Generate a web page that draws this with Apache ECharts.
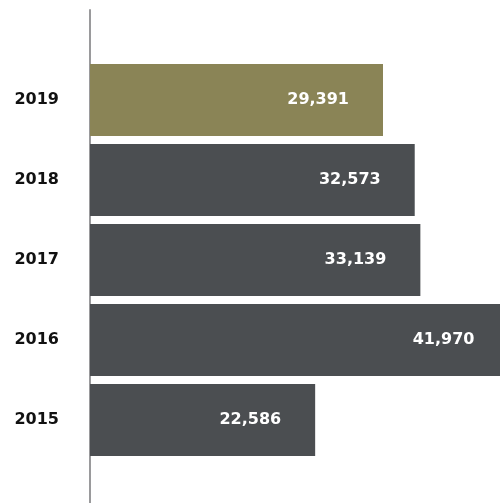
<!DOCTYPE html>
<html>
<head>
<meta charset="utf-8">
<script src="https://cdn.jsdelivr.net/npm/echarts@6/dist/echarts.min.js"></script>
<style>
  html, body { margin: 0; padding: 0; background: #ffffff; }
  #chart { width: 500px; height: 503px; }
</style>
</head>
<body>
<div id="chart"></div>
<script>
// Yearly totals, listed bottom-to-top along the category axis
const years = ['2015', '2016', '2017', '2018', '2019'];
const totals = [22586, 41970, 33139, 32573, 29391];
const highlightYear = '2019';

const colorBase = '#4b4e51';
const colorHighlight = '#8a8456';

const fmt = v => String(v).replace(/\B(?=(\d{3})+(?!\d))/g, ',');

const chart = echarts.init(document.getElementById('chart'), null, { renderer: 'canvas' });

chart.setOption({
  animation: false,
  backgroundColor: '#ffffff',
  grid: [
    // plot area runs past the right edge so the longest bar is cut off
    { left: 90, width: 418.7, top: 60, height: 400, outerBoundsMode: 'none' },
    { left: 90, right: 0, top: 10, bottom: 0, outerBoundsMode: 'none' }
  ],
  xAxis: [
    { type: 'value', gridIndex: 0, min: 0, max: 42000, show: false },
    { type: 'value', gridIndex: 1, min: 0, max: 1, show: false }
  ],
  yAxis: [
    {
      type: 'category',
      gridIndex: 0,
      data: years,
      axisLine: { show: false },
      axisTick: { show: false },
      axisLabel: {
        margin: 31,
        color: '#111111',
        fontFamily: 'DejaVu Sans',
        fontWeight: 'bold',
        fontSize: 16
      }
    },
    {
      type: 'value',
      gridIndex: 1,
      axisLine: { show: true, lineStyle: { color: '#9a9a9c', width: 2 } },
      axisTick: { show: false },
      axisLabel: { show: false },
      splitLine: { show: false }
    }
  ],
  series: [{
    type: 'bar',
    xAxisIndex: 0,
    yAxisIndex: 0,
    barCategoryGap: '10%',
    data: totals.map((v, i) => ({
      value: v,
      itemStyle: { color: years[i] === highlightYear ? colorHighlight : colorBase }
    })),
    label: {
      show: true,
      position: 'insideRight',
      distance: 34,
      color: '#ffffff',
      fontFamily: 'DejaVu Sans',
      fontWeight: 'bold',
      fontSize: 16,
      formatter: p => fmt(p.value)
    }
  }]
});
</script>
</body>
</html>
